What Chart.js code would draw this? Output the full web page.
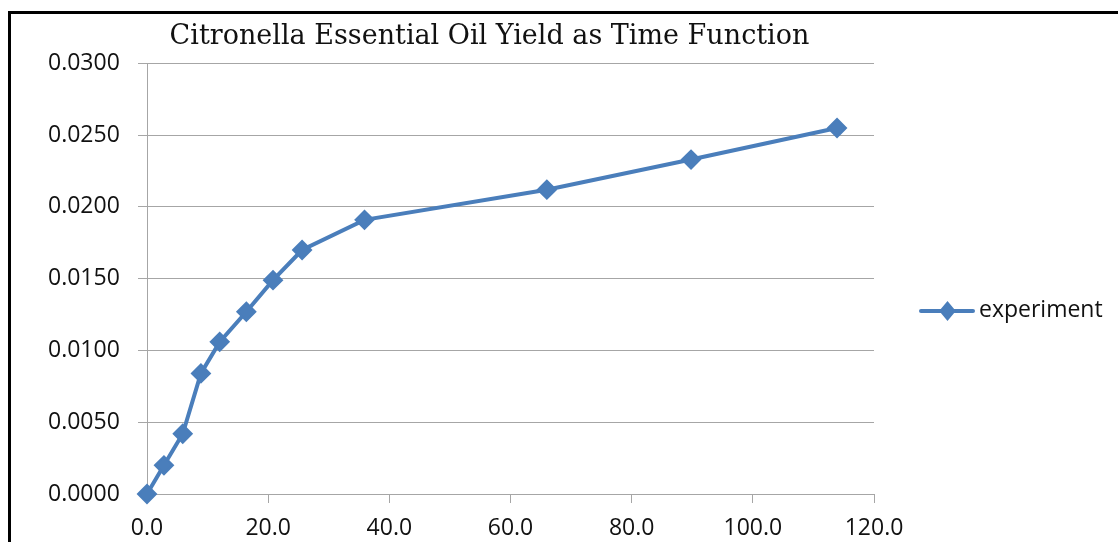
<!DOCTYPE html>
<html>
<head>
<meta charset="utf-8">
<title>Citronella Essential Oil Yield</title>
<script src="https://cdn.jsdelivr.net/npm/chart.js@4/dist/chart.umd.min.js"></script>
<style>
  html, body { margin: 0; padding: 0; background: #fff; overflow: hidden; }
  #wrap { position: relative; width: 1118px; height: 542px; }
  #frame {
    position: absolute; left: 8px; top: 11px; width: 2000px; height: 1000px;
    border-left: 3px solid #000; border-top: 3px solid #000;
    box-sizing: border-box; pointer-events: none;
  }
</style>
</head>
<body>
<div id="wrap">
  <canvas id="chart" width="1118" height="542"></canvas>
  <div id="frame"></div>
</div>
<script>
// Extraction time and measured oil yield
const timeValues  = [0, 2.8, 5.9, 8.9, 12.0, 16.4, 20.8, 25.6, 35.9, 66.0, 89.8, 113.9];
const yieldValues = [0, 0.0020, 0.0042, 0.0084, 0.0106, 0.0127, 0.0149, 0.0170, 0.0191, 0.0212, 0.0233, 0.0255];
const seriesName  = 'experiment';
const chartTitle  = 'Citronella Essential Oil Yield as Time Function';

const xTicks = { min: 0, max: 120, step: 20 };
const yTicks = { min: 0, max: 0.03, step: 0.005 };

const lineBlue = '#4A7EBB';
const gridGray = '#A6A6A6';
const labelFont = 'Open Sans';
const labelSize = 23;

// Line-with-diamond legend entry at the right of the plot
const sideLegend = {
  id: 'sideLegend',
  afterDraw(chart) {
    const ctx = chart.ctx;
    const ds = chart.data.datasets[0];
    const cy = 311, cx = 947.5;
    ctx.save();
    ctx.strokeStyle = ds.borderColor;
    ctx.lineWidth = 4;
    ctx.lineCap = 'round';
    ctx.beginPath();
    ctx.moveTo(921, cy);
    ctx.lineTo(973, cy);
    ctx.stroke();
    ctx.fillStyle = ds.backgroundColor;
    ctx.lineWidth = 2;
    ctx.lineCap = 'butt';
    ctx.beginPath();
    ctx.moveTo(cx - 7, cy);
    ctx.lineTo(cx, cy - 8.5);
    ctx.lineTo(cx + 7, cy);
    ctx.lineTo(cx, cy + 8.5);
    ctx.closePath();
    ctx.fill();
    ctx.stroke();
    ctx.fillStyle = '#111';
    ctx.font = labelSize + 'px "' + labelFont + '"';
    ctx.textAlign = 'left';
    ctx.textBaseline = 'middle';
    ctx.fillText(ds.label, 979, cy - 1);
    ctx.restore();
  }
};

new Chart(document.getElementById('chart'), {
  type: 'line',
  data: {
    datasets: [{
      label: seriesName,
      data: timeValues.map((t, i) => ({ x: t, y: yieldValues[i] })),
      borderColor: lineBlue,
      backgroundColor: lineBlue,
      borderWidth: 4,
      pointStyle: 'rectRot',
      pointRadius: 9,
      pointBorderWidth: 2,
      pointBackgroundColor: lineBlue,
      pointBorderColor: lineBlue,
      tension: 0,
      clip: false
    }]
  },
  options: {
    responsive: false,
    animation: false,
    events: [],
    layout: { padding: { left: 105, right: 244, top: 0, bottom: 0 } },
    plugins: {
      legend: { display: false },
      tooltip: { enabled: false },
      title: {
        display: true,
        text: chartTitle,
        color: '#111',
        font: { family: 'DejaVu Serif', size: 27, weight: 'normal', lineHeight: 1.2 },
        padding: { top: 21, bottom: 10 }
      }
    },
    scales: {
      x: {
        type: 'linear',
        min: xTicks.min,
        max: xTicks.max,
        afterFit(scale) { scale.height = 48; },
        border: { display: true, color: gridGray, width: 1 },
        grid: { drawOnChartArea: false, drawTicks: true, tickLength: 9, color: gridGray },
        ticks: {
          stepSize: xTicks.step,
          padding: 12,
          color: '#111',
          font: { family: labelFont, size: labelSize },
          maxRotation: 0,
          callback: v => Number(v).toFixed(1)
        }
      },
      y: {
        type: 'linear',
        min: yTicks.min,
        max: yTicks.max,
        afterFit(scale) { scale.width = 42; },
        border: { display: true, color: gridGray, width: 1 },
        grid: { drawOnChartArea: true, drawTicks: true, tickLength: 9, color: gridGray },
        ticks: {
          stepSize: yTicks.step,
          mirror: true,
          padding: -99,
          color: '#111',
          font: { family: labelFont, size: labelSize },
          callback: v => Number(v).toFixed(4)
        }
      }
    }
  },
  plugins: [sideLegend]
});
</script>
</body>
</html>
